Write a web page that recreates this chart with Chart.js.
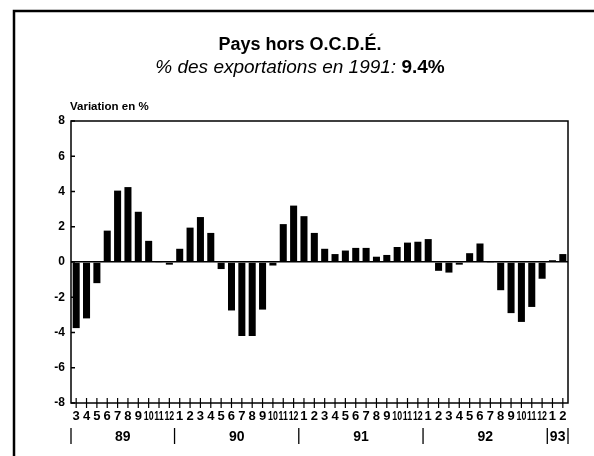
<!DOCTYPE html>
<html>
<head>
<meta charset="utf-8">
<script src="https://cdn.jsdelivr.net/npm/chart.js@4"></script>
<style>
  html, body { margin: 0; padding: 0; background: #fff; }
  canvas { display: block; }
</style>
</head>
<body>
<canvas id="graphique" width="594" height="456"></canvas>
<script>
// mois de mars 1989 a fevrier 1993
const mois = ['3','4','5','6','7','8','9','10','11','12',
  '1','2','3','4','5','6','7','8','9','10','11','12',
  '1','2','3','4','5','6','7','8','9','10','11','12',
  '1','2','3','4','5','6','7','8','9','10','11','12',
  '1','2'];
const annees = ['89', '90', '91', '92', '93'];
const variations = [-3.75, -3.2, -1.2, 1.78, 4.05, 4.25, 2.85, 1.2, -0.05, -0.15,
  0.75, 1.95, 2.55, 1.65, -0.4, -2.75, -4.2, -4.2, -2.7, -0.2, 2.15, 3.2,
  2.6, 1.65, 0.75, 0.45, 0.65, 0.8, 0.8, 0.3, 0.4, 0.85, 1.1, 1.15,
  1.3, -0.5, -0.6, -0.15, 0.5, 1.05, -0.03, -1.6, -2.9, -3.4, -2.55, -0.95,
  0.1, 0.45];
const yTicks = [-8, -6, -4, -2, 0, 2, 4, 6, 8];

const titre = 'Pays hors O.C.D.É.';
const sousTitre = '% des exportations en 1991: ';
const sousTitreGras = '9.4%';
const titreAxe = 'Variation en %';

const police = '"Liberation Sans", Arial, sans-serif';

const decor = {
  id: 'decor',
  beforeDraw(chart) {
    const c = chart.ctx;
    c.save();
    c.fillStyle = '#fff';
    c.fillRect(0, 0, chart.width, chart.height);
    c.strokeStyle = '#000';
    c.lineWidth = 2.5;
    c.beginPath();
    c.moveTo(14, 456);
    c.lineTo(14, 11);
    c.lineTo(594, 11);
    c.stroke();
    c.restore();
  },
  afterDraw(chart) {
    const c = chart.ctx;
    const a = chart.chartArea;
    const x = chart.scales.x;
    const y = chart.scales.y;
    c.save();
    c.fillStyle = '#000';
    c.strokeStyle = '#000';

    // titres
    c.textAlign = 'center';
    c.textBaseline = 'middle';
    c.font = 'bold 18px ' + police;
    c.fillText(titre, 300, 45);
    c.font = 'italic 19px ' + police;
    const w1 = c.measureText(sousTitre).width;
    c.font = 'bold 19px ' + police;
    const w2 = c.measureText(sousTitreGras).width;
    const x0 = 300 - (w1 + w2) / 2;
    c.textAlign = 'left';
    c.font = 'italic 19px ' + police;
    c.fillText(sousTitre, x0, 68);
    c.font = 'bold 19px ' + police;
    c.fillText(sousTitreGras, x0 + w1, 68);
    c.font = 'bold 11.5px ' + police;
    c.fillText(titreAxe, 70, 107);

    // cadre du graphique
    c.lineWidth = 1.5;
    c.strokeRect(a.left, a.top, a.right - a.left, a.bottom - a.top);

    // graduations y vers l'interieur
    yTicks.forEach(v => {
      const py = y.getPixelForValue(v);
      c.beginPath();
      c.moveTo(a.left, py);
      c.lineTo(a.left + 4, py);
      c.stroke();
    });

    // graduations et mois sur l'axe x
    c.lineWidth = 1.2;
    c.textAlign = 'center';
    c.font = 'bold 13px ' + police;
    mois.forEach((m, i) => {
      const px = x.getPixelForValue(i);
      c.beginPath();
      c.moveTo(px, a.bottom - 5);
      c.lineTo(px, a.bottom + 5);
      c.stroke();
      c.save();
      c.translate(px, a.bottom + 13);
      if (m.length > 1) c.scale(0.68, 1);
      c.fillText(m, 0, 0);
      c.restore();
    });

    // annees et separateurs
    const debuts = [0];
    mois.forEach((m, i) => { if (m === '1') debuts.push(i); });
    const pas = x.getPixelForValue(1) - x.getPixelForValue(0);
    c.font = 'bold 14px ' + police;
    c.lineWidth = 1.3;
    annees.forEach((an, k) => {
      const g = x.getPixelForValue(debuts[k]) - pas / 2;
      const fin = k + 1 < debuts.length ? debuts[k + 1] : mois.length;
      const d = x.getPixelForValue(fin - 1) + pas / 2;
      c.beginPath();
      c.moveTo(g, a.bottom + 25);
      c.lineTo(g, a.bottom + 41);
      c.stroke();
      c.fillText(an, (g + d) / 2, a.bottom + 34);
    });
    const dernier = x.getPixelForValue(mois.length - 1) + pas / 2;
    c.beginPath();
    c.moveTo(dernier, a.bottom + 25);
    c.lineTo(dernier, a.bottom + 41);
    c.stroke();
    c.restore();
  }
};

new Chart(document.getElementById('graphique'), {
  type: 'bar',
  data: {
    labels: mois,
    datasets: [{
      data: variations,
      backgroundColor: '#000',
      barPercentage: 0.68,
      categoryPercentage: 1
    }]
  },
  options: {
    responsive: false,
    animation: false,
    layout: { padding: { top: 121, right: 26, left: 0, bottom: 0 } },
    plugins: {
      legend: { display: false },
      title: { display: false },
      tooltip: { enabled: false }
    },
    scales: {
      x: {
        grid: { display: false },
        border: { display: false },
        ticks: { display: false },
        afterFit: s => { s.height = 53; }
      },
      y: {
        min: -8,
        max: 8,
        afterBuildTicks: s => { s.ticks = yTicks.map(v => ({ value: v })); },
        ticks: {
          color: '#000',
          padding: 6,
          font: { family: police, size: 12, weight: 'bold' }
        },
        grid: {
          drawTicks: false,
          color: ctx => ctx.tick && ctx.tick.value === 0 ? '#000' : 'rgba(0,0,0,0)',
          lineWidth: 1.5
        },
        border: { display: false },
        afterFit: s => { s.width = 71; }
      }
    }
  },
  plugins: [decor]
});
</script>
</body>
</html>
